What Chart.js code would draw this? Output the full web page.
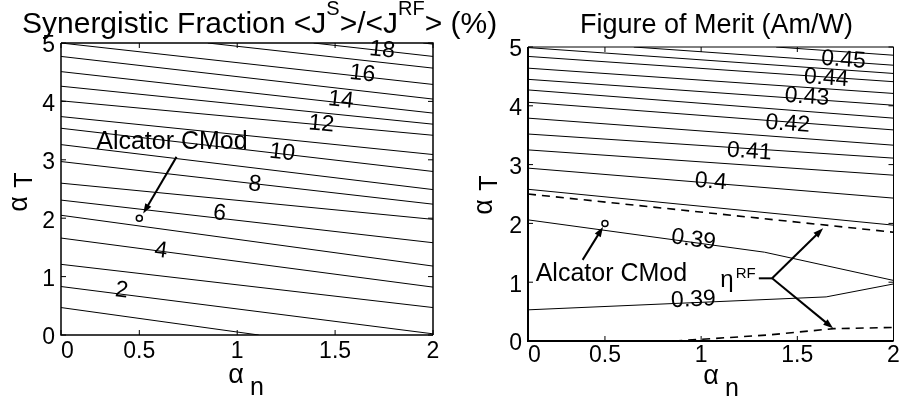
<!DOCTYPE html>
<html>
<head>
<meta charset="utf-8">
<title>Synergistic fraction and figure of merit</title>
<script src="https://cdn.jsdelivr.net/npm/chart.js@4.4.1/dist/chart.umd.min.js"></script>
<style>
  body { margin: 0; background: #fff; }
  #page { position: relative; width: 899px; height: 402px; overflow: hidden; font-family: "Liberation Sans", Arial, Helvetica, sans-serif; }
  canvas { position: absolute; top: 0; }
  #leftChart { left: 0; }
  #rightChart { left: 450px; }
  .title { position: absolute; line-height: 30px; white-space: nowrap; color: #000; }
  #leftTitle { left: 22px; top: 8px; font-size: 30px; }
  #rightTitle { left: 580px; top: 9px; font-size: 27px; }
  .title .sup { position: relative; top: -18px; font-size: 20px; }
</style>
</head>
<body>
<div id="page">
  <canvas id="leftChart" width="450" height="402"></canvas>
  <canvas id="rightChart" width="449" height="402"></canvas>
  <div class="title" id="leftTitle">Synergistic Fraction &lt;J<span class="sup">S</span>&gt;/&lt;J<span class="sup">RF</span>&gt; (%)</div>
  <div class="title" id="rightTitle">Figure of Merit (Am/W)</div>
</div>
<script>
var fontFamily = '"Liberation Sans", Arial, Helvetica, sans-serif';

// both panels span alpha_n 0.1..2; the source figure labels the left edge "0"
var xTicks = [0.1, 0.5, 1, 1.5, 2];
var yTicks = [0, 1, 2, 3, 4, 5];

// left panel: synergistic fraction contours, one [alpha_n, alpha_T] path per level
var sfLevels = [1, 2, 3, 4, 5, 6, 7, 8, 9, 10, 11, 12, 13, 14, 15, 16, 17, 18, 19];
var sfPaths = [
    [[0.1, 0.47], [1.11, 0]],
    [[0.1, 0.83], [2, 0.02]],
    [[0.1, 1.21], [2, 0.47]],
    [[0.1, 1.66], [2, 0.82]],
    [[0.1, 2.05], [2, 1.18]],
    [[0.1, 2.31], [2, 1.58]],
    [[0.1, 2.60], [2, 1.98]],
    [[0.1, 2.97], [2, 2.24]],
    [[0.1, 3.26], [2, 2.49]],
    [[0.1, 3.54], [2, 2.80]],
    [[0.1, 3.74], [2, 3.09]],
    [[0.1, 4.01], [2, 3.42]],
    [[0.1, 4.26], [2, 3.61]],
    [[0.1, 4.51], [2, 3.80]],
    [[0.1, 4.77], [2, 4.04]],
    [[0.1, 5.00], [2, 4.29]],
    [[0.85, 5], [2, 4.57]],
    [[1.39, 5], [2, 4.77]],
    [[1.95, 5], [2, 4.98]]
];
var sfLabelText = ['2', '4', '6', '8', '10', '12', '14', '16', '18'];
var sfLabelX = [0.41, 0.61, 0.91, 1.09, 1.23, 1.43, 1.53, 1.64, 1.74];
var sfLabelY = [0.76, 1.44, 2.08, 2.58, 3.12, 3.61, 4.02, 4.47, 4.88];

// right panel: figure of merit contours (Am/W)
var fomLevels = [0.39, 0.39, 0.395, 0.40, 0.405, 0.41, 0.415, 0.42, 0.425, 0.43, 0.435, 0.44, 0.445, 0.45, 0.455];
var fomPaths = [
    [[0.1, 2.06], [1.33, 1.51], [2, 1.03]],
    [[0.1, 0.53], [1.65, 0.75], [2, 0.97]],
    [[0.1, 2.58], [2, 1.97]],
    [[0.1, 2.94], [2, 2.43]],
    [[0.1, 3.25], [2, 2.82]],
    [[0.1, 3.52], [2, 3.11]],
    [[0.1, 3.79], [2, 3.33]],
    [[0.1, 4.06], [2, 3.59]],
    [[0.1, 4.27], [2, 3.79]],
    [[0.1, 4.45], [2, 4.01]],
    [[0.1, 4.64], [2, 4.21]],
    [[0.1, 4.84], [2, 4.41]],
    [[0.1, 4.99], [2, 4.55]],
    [[0.65, 5], [2, 4.69]],
    [[1.39, 5], [2, 4.86]]
];
// eta^RF boundaries (dashed)
var etaPaths = [
    [[0.1, 2.50], [2, 1.85]],
    [[0.86, 0], [1.34, 0.10], [1.69, 0.21], [2, 0.23]]
];
var fomLabelText = ['0.45', '0.44', '0.43', '0.42', '0.41', '0.4', '0.39', '0.39'];
var fomLabelX = [1.74, 1.65, 1.55, 1.45, 1.25, 1.05, 0.96, 0.96];
var fomLabelY = [4.78, 4.47, 4.15, 3.69, 3.22, 2.71, 1.72, 0.70];

// Alcator C-Mod operating point
var cmodPoint = [0.5, 2.0];

function toXY(path) {
    return path.map(function(q) { return { x: q[0], y: q[1] }; });
}

function contourSets(paths, dashed) {
    return paths.map(function(p) {
        return {
            data: toXY(p),
            showLine: true,
            borderColor: '#000',
            borderWidth: dashed ? 1.6 : 1,
            borderDash: dashed ? [8, 6] : [],
            pointRadius: 0,
            tension: 0,
            fill: false
        };
    });
}

function markerSet() {
    return {
        data: [{ x: cmodPoint[0], y: cmodPoint[1] }],
        showLine: false,
        pointRadius: 3,
        pointBackgroundColor: '#fff',
        pointBorderColor: '#000',
        pointBorderWidth: 1.5
    };
}

function drawArrow(ctx, x1, y1, x2, y2) {
    var a = Math.atan2(y2 - y1, x2 - x1), L = 10, W = 3.5;
    ctx.beginPath();
    ctx.moveTo(x1, y1);
    ctx.lineTo(x2 - 0.7 * L * Math.cos(a), y2 - 0.7 * L * Math.sin(a));
    ctx.stroke();
    ctx.beginPath();
    ctx.moveTo(x2, y2);
    ctx.lineTo(x2 - L * Math.cos(a) + W * Math.sin(a), y2 - L * Math.sin(a) - W * Math.cos(a));
    ctx.lineTo(x2 - L * Math.cos(a) - W * Math.sin(a), y2 - L * Math.sin(a) + W * Math.cos(a));
    ctx.closePath();
    ctx.fill();
}

// slope (in pixels) of the contour passing nearest a label
function labelAngle(paths, lx, ly, xs, ys) {
    var best = null, bestD = 1e9;
    paths.forEach(function(p) {
        for (var i = 0; i < p.length - 1; i++) {
            var a = p[i], b = p[i + 1];
            if (lx >= Math.min(a[0], b[0]) && lx <= Math.max(a[0], b[0])) {
                var y = a[1] + (b[1] - a[1]) * (lx - a[0]) / (b[0] - a[0]);
                if (Math.abs(y - ly) < bestD) { bestD = Math.abs(y - ly); best = [a, b]; }
            }
        }
    });
    if (!best) return 0;
    return Math.atan2(ys.getPixelForValue(best[1][1]) - ys.getPixelForValue(best[0][1]),
                      xs.getPixelForValue(best[1][0]) - xs.getPixelForValue(best[0][0]));
}

function panelPlugin(cfg) {
    return {
        id: 'panelExtras',
        afterDatasetsDraw: function(chart) {
            var ctx = chart.ctx, xs = chart.scales.x, ys = chart.scales.y, area = chart.chartArea;
            var X = function(v) { return xs.getPixelForValue(v); };
            var Y = function(v) { return ys.getPixelForValue(v); };
            ctx.save();
            ctx.strokeStyle = '#000';
            ctx.fillStyle = '#000';

            // frame
            ctx.lineWidth = cfg.frameThin;
            ctx.beginPath();
            ctx.moveTo(area.left, area.top); ctx.lineTo(area.right, area.top); ctx.lineTo(area.right, area.bottom);
            ctx.stroke();
            ctx.lineWidth = cfg.frameThick;
            ctx.beginPath();
            ctx.moveTo(area.left, area.top); ctx.lineTo(area.left, area.bottom); ctx.lineTo(area.right, area.bottom);
            ctx.stroke();

            // inward tick marks on all four sides
            ctx.lineWidth = 1;
            ctx.beginPath();
            xs.ticks.forEach(function(t) {
                var px = X(t.value);
                ctx.moveTo(px, area.bottom); ctx.lineTo(px, area.bottom - 5);
                ctx.moveTo(px, area.top); ctx.lineTo(px, area.top + 5);
            });
            ys.ticks.forEach(function(t) {
                var py = Y(t.value);
                ctx.moveTo(area.left, py); ctx.lineTo(area.left + 5, py);
                ctx.moveTo(area.right, py); ctx.lineTo(area.right - 5, py);
            });
            ctx.stroke();

            // contour labels, rotated along their line
            ctx.font = '23px ' + fontFamily;
            ctx.textAlign = 'center';
            ctx.textBaseline = 'middle';
            cfg.labelText.forEach(function(txt, i) {
                var ang = labelAngle(cfg.paths, cfg.labelX[i], cfg.labelY[i], xs, ys);
                ctx.save();
                ctx.translate(X(cfg.labelX[i]), Y(cfg.labelY[i]));
                ctx.rotate(ang);
                ctx.fillText(txt, 0, 0);
                ctx.restore();
            });

            cfg.annotate(ctx, X, Y);

            // axis labels alpha_n and alpha_T
            ctx.textAlign = 'center';
            ctx.textBaseline = 'middle';
            ctx.font = '27px ' + fontFamily;
            ctx.fillText('\u03b1', cfg.xLab[0], cfg.xLab[1]);
            ctx.font = '25px ' + fontFamily;
            ctx.fillText('n', cfg.xLab[0] + 21, cfg.xLab[1] + 12);
            ctx.save();
            ctx.translate(cfg.yLab[0], cfg.yLab[1]);
            ctx.rotate(-Math.PI / 2);
            ctx.font = '27px ' + fontFamily;
            ctx.fillText('\u03b1', 0, 0);
            ctx.font = '25px ' + fontFamily;
            ctx.fillText('T', 24, 5);
            ctx.restore();

            ctx.restore();
        }
    };
}

function makePanel(id, cfg) {
    var tickFont = { family: fontFamily, size: 23 };
    return new Chart(document.getElementById(id), {
        type: 'scatter',
        data: { datasets: cfg.datasets },
        options: {
            responsive: false,
            animation: false,
            events: [],
            layout: { padding: { top: cfg.top, right: cfg.right, left: 0, bottom: 0 } },
            plugins: { legend: { display: false }, tooltip: { enabled: false } },
            scales: {
                x: {
                    type: 'linear', min: 0.1, max: 2,
                    afterBuildTicks: function(s) { s.ticks = xTicks.map(function(v) { return { value: v }; }); },
                    afterFit: function(s) { s.height = cfg.xAxisH; s.paddingLeft = 0; s.paddingRight = 0; },
                    grid: { display: false, drawTicks: false },
                    border: { display: false },
                    ticks: {
                        color: '#000', font: tickFont, padding: cfg.xPad, maxRotation: 0, autoSkip: false,
                        callback: function(v) { return v === 0.1 ? '  0' : String(v); }
                    }
                },
                y: {
                    type: 'linear', min: 0, max: 5,
                    afterBuildTicks: function(s) { s.ticks = yTicks.map(function(v) { return { value: v }; }); },
                    afterFit: function(s) { s.width = cfg.yAxisW; s.paddingTop = 0; s.paddingBottom = 0; },
                    grid: { display: false, drawTicks: false },
                    border: { display: false },
                    ticks: { color: '#000', font: tickFont, padding: 6, labelOffset: 3, autoSkip: false }
                }
            }
        },
        plugins: [panelPlugin(cfg)]
    });
}

makePanel('leftChart', {
    datasets: contourSets(sfPaths, false).concat([markerSet()]),
    paths: sfPaths,
    labelText: sfLabelText, labelX: sfLabelX, labelY: sfLabelY,
    top: 43, right: 17, xAxisH: 67, yAxisW: 61, xPad: 3,
    frameThin: 1.5, frameThick: 1.5,
    xLab: [236, 376], yLab: [20, 204],
    annotate: function(ctx, X, Y) {
        ctx.font = '25px ' + fontFamily;
        ctx.textAlign = 'left';
        ctx.textBaseline = 'alphabetic';
        ctx.fillText('Alcator CMod', X(0.28), Y(3.19));
        ctx.lineWidth = 2;
        drawArrow(ctx, X(0.69), Y(3.05), X(0.52), Y(2.08));
    }
});

makePanel('rightChart', {
    datasets: contourSets(fomPaths, false).concat(contourSets(etaPaths, true), [markerSet()]),
    paths: fomPaths,
    labelText: fomLabelText, labelX: fomLabelX, labelY: fomLabelY,
    top: 47, right: 1, xAxisH: 61, yAxisW: 78, xPad: 1,
    frameThin: 1, frameThick: 2,
    xLab: [261, 377], yLab: [35, 207],
    annotate: function(ctx, X, Y) {
        ctx.font = '25px ' + fontFamily;
        ctx.textAlign = 'left';
        ctx.textBaseline = 'alphabetic';
        ctx.fillText('Alcator CMod', X(0.14), Y(1.02));
        ctx.font = '24px ' + fontFamily;
        ctx.fillText('\u03b7', X(1.10), Y(0.92));
        ctx.font = '15px ' + fontFamily;
        ctx.fillText('RF', X(1.18), Y(1.07));
        ctx.lineWidth = 2;
        drawArrow(ctx, X(0.384), Y(1.38), X(0.49), Y(1.94));
        ctx.beginPath();
        ctx.moveTo(X(1.30), Y(1.066)); ctx.lineTo(X(1.369), Y(1.066));
        ctx.stroke();
        drawArrow(ctx, X(1.369), Y(1.066), X(1.634), Y(1.917));
        drawArrow(ctx, X(1.369), Y(1.066), X(1.686), Y(0.216));
    }
});
</script>
</body>
</html>
